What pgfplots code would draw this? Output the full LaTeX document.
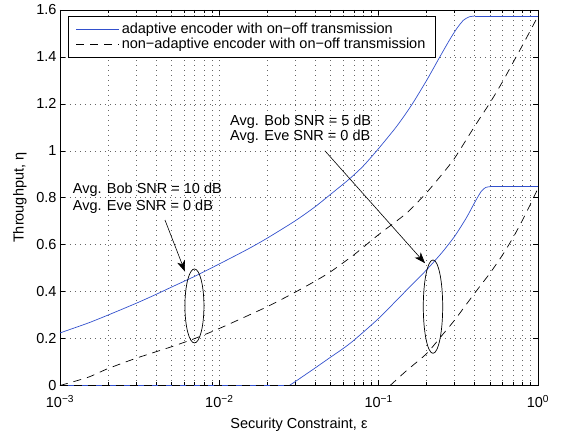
\documentclass[border=0pt]{standalone}
\usepackage{fontspec}
\setmainfont{Liberation Sans}
\usepackage{pgfplots}
\pgfplotsset{compat=1.18}
\usetikzlibrary{arrows.meta}
\definecolor{mblue}{RGB}{50,80,205}
\begin{document}
\begin{tikzpicture}[font=\fontsize{14.5bp}{17bp}\selectfont]
\useasboundingbox (-60bp,-45.5bp) rectangle (502bp,385.5bp);
\begin{axis}[
  at={(0bp,0bp)}, anchor=south west,
  scale only axis, width=478bp, height=375.5bp,
  xmode=log, xmin=1e-3, xmax=1, ymin=0, ymax=1.6,
  xtick={0.001,0.01,0.1,1},
  xticklabels={10\textsuperscript{−3},10\textsuperscript{−2},10\textsuperscript{−1},10\textsuperscript{0}},
  minor xtick={0.002,0.003,0.004,0.005,0.006,0.007,0.008,0.009,0.02,0.03,0.04,0.05,0.06,0.07,0.08,0.09,0.2,0.3,0.4,0.5,0.6,0.7,0.8,0.9},
  ytick={0,0.2,0.4,0.6,0.8,1,1.2,1.4,1.6},
  yticklabels={0,0.2,0.4,0.6,0.8,1,1.2,1.4,1.6},
  xmajorgrids, xminorgrids, ymajorgrids,
  major grid style={black!60, line width=0.6bp, dash pattern=on 0.8bp off 4.2bp},
  minor grid style={black!60, line width=0.6bp, dash pattern=on 0.8bp off 4.2bp},
  tick align=inside,
  major tick length=5bp, minor tick length=3bp,
  every tick/.style={black, line width=0.6bp},
  axis line style={line width=0.8bp},
  xticklabel style={yshift=-6bp},
  xlabel={Security Constraint, ε},
  ylabel={Throughput, η},
  every axis x label/.style={at={(axis description cs:0.5,-0.104)}, anchor=center},
  every axis y label/.style={at={(axis description cs:-0.0837,0.5)}, anchor=center, rotate=90},
  legend style={at={(rel axis cs:0.0161,0.9848)}, anchor=north west, draw=black, line width=0.8bp, fill=white, font=\fontsize{14.5bp}{17bp}\selectfont, inner xsep=8bp, inner ysep=5bp, row sep=-1bp},
  legend cell align=left,
  legend image code/.code={\draw[#1] (0bp,0bp) -- (43bp,0bp);},
]
\addplot[mblue, line width=0.7bp, smooth, tension=0.4] coordinates {(0.001,0.224)(0.0015,0.266)(0.002,0.300)(0.003,0.350)(0.004,0.388)(0.005,0.419)(0.007,0.465)(0.01,0.518)(0.015,0.580)(0.02,0.628)(0.03,0.702)(0.04,0.762)(0.05,0.815)(0.065,0.878)(0.08,0.935)(0.1,1.010)(0.13,1.105)(0.161,1.195)(0.2,1.300)(0.242,1.400)(0.28,1.475)(0.31,1.522)(0.34,1.556)(0.37,1.571)(0.4,1.574)};
\addlegendentry{adaptive encoder with on−off transmission}
\addplot[black, line width=0.7bp, dash pattern=on 8bp off 6bp, smooth, tension=0.4] coordinates {(0.001,0.0)(0.0015,0.035)(0.002,0.072)(0.003,0.116)(0.005,0.165)(0.007,0.200)(0.01,0.243)(0.02,0.336)(0.03,0.398)(0.04,0.445)(0.05,0.485)(0.07,0.557)(0.1,0.643)(0.15,0.735)(0.2,0.822)(0.25,0.900)(0.3,0.969)(0.4,1.104)(0.5,1.205)(0.6,1.295)(0.7,1.378)(0.8,1.450)(0.9,1.515)(1,1.574)};
\addlegendentry{non−adaptive encoder with on−off transmission}
\addplot[mblue, line width=0.7bp, forget plot] coordinates {(0.4,1.574)(1,1.574)};
\addplot[mblue, line width=0.7bp, forget plot] coordinates {(0.001,0)(0.0275,0)};
\addplot[mblue, line width=0.7bp, smooth, tension=0.4, forget plot] coordinates {(0.0275,0)(0.03,0.017)(0.04,0.075)(0.05,0.121)(0.06,0.158)(0.07,0.193)(0.1,0.286)(0.15,0.407)(0.2,0.493)(0.25,0.567)(0.3,0.636)(0.355,0.714)(0.4,0.779)(0.44,0.827)(0.47,0.844)(0.5,0.847)};
\addplot[mblue, line width=0.7bp, forget plot] coordinates {(0.5,0.847)(1,0.847)};
\addplot[black, line width=0.7bp, dash pattern=on 8bp off 6bp, forget plot] coordinates {(0.001,0)(0.118,0)};
\addplot[black, line width=0.7bp, dash pattern=on 8bp off 6bp, smooth, tension=0.4, forget plot] coordinates {(0.118,0)(0.15,0.064)(0.2,0.136)(0.25,0.214)(0.3,0.279)(0.4,0.393)(0.5,0.479)(0.6,0.557)(0.7,0.632)(0.8,0.705)(0.9,0.775)(1,0.84)};
\draw[black, line width=0.7bp] (axis cs:0.00698,0.339) ellipse [x radius=9.5bp, y radius=37bp];
\draw[black, line width=0.7bp] (axis cs:0.2193,0.336) ellipse [x radius=9.7bp, y radius=46.7bp];
\draw[black, line width=0.6bp, -{Stealth[length=11bp,width=8bp,inset=3bp]}] (axis cs:0.00456,0.705) -- (axis cs:0.00609,0.485);
\draw[black, line width=0.6bp, -{Stealth[length=11bp,width=8bp,inset=3bp]}] (axis cs:0.046,1.0) -- (axis cs:0.1955,0.521);
\node[anchor=west, inner sep=0pt] at (axis cs:0.001201,0.833) {Avg. Bob SNR = 10 dB};
\node[anchor=west, inner sep=0pt] at (axis cs:0.001201,0.762) {Avg. Eve SNR = 0 dB};
\node[anchor=west, inner sep=0pt] at (axis cs:0.01167,1.124) {Avg. Bob SNR = 5 dB};
\node[anchor=west, inner sep=0pt] at (axis cs:0.01167,1.058) {Avg. Eve SNR = 0 dB};
\end{axis}
\end{tikzpicture}
\end{document}
